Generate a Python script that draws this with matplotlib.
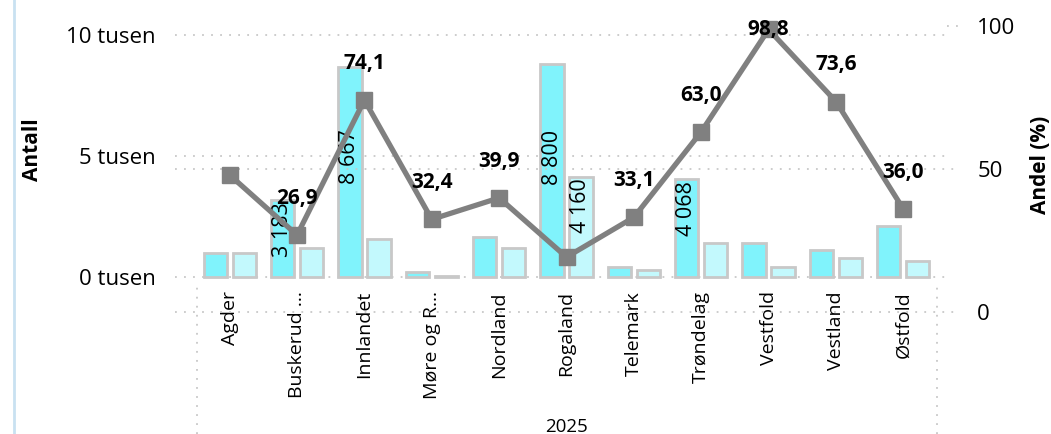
import matplotlib
matplotlib.use("Agg")
import matplotlib.pyplot as plt
import matplotlib.transforms as mtransforms
from matplotlib.lines import Line2D

plt.rcParams['font.family'] = ['Open Sans', 'DejaVu Sans']

# data
regions = ["Agder", "Buskerud ...", "Innlandet", "Møre og R...", "Nordland", "Rogaland",
           "Telemark", "Trøndelag", "Vestfold", "Vestland", "Østfold"]
antall_a = [1020, 3183, 8667, 210, 1680, 8800, 440, 4068, 1430, 1130, 2120]
antall_b = [1020, 1230, 1580, 50, 1230, 4160, 300, 1430, 440, 810, 680]
andel = [47.9, 26.9, 74.1, 32.4, 39.9, 19.2, 33.1, 63.0, 98.8, 73.6, 36.0]
andel_shown = [False, True, True, True, True, False, True, True, True, True, True]
bar_a_labels = ["", "3 183", "8 667", "", "", "8 800", "", "4 068", "", "", ""]
bar_b_labels = ["", "", "", "", "", "4 160", "", "", "", "", ""]
year = "2025"

W, H = 1051, 434
fig = plt.figure(figsize=(W / 100, H / 100), dpi=100)
fig.patch.set_facecolor("white")

ax = fig.add_axes([196 / W, (H - 320) / H, (937 - 196) / W, 300 / H])
ax2 = ax.twinx()
ax.set_xlim(-0.5, len(regions) - 0.5)
ax.set_ylim(-1752.6, 10618)
ax2.set_ylim(-2.80, 102.1)

dark = "#80F3FC"
light = "#C3F9FD"
edge = "#C8C8C8"
gray = "#808080"
grid_c = "#C8C8C8"

x = list(range(len(regions)))
xa = [i - 0.215 for i in x]
xb = [i + 0.215 for i in x]
ax.bar(xa, antall_a, width=0.345, color=dark, edgecolor=edge, linewidth=2, zorder=2)
ax.bar(xb, antall_b, width=0.345, color=light, edgecolor=edge, linewidth=2, zorder=2)

for xs, vals, labs in [(xa, antall_a, bar_a_labels), (xb, antall_b, bar_b_labels)]:
    for xi, v, lab in zip(xs, vals, labs):
        if lab:
            ax.text(xi, min(v - 80, 6100), lab, rotation=90, ha="center", va="top",
                    fontsize=15.5, color="black", zorder=3)

# gridlines (dotted, spilling past plot area like the original)
tl = mtransforms.blended_transform_factory(ax.transAxes, ax.transData)
tr = mtransforms.blended_transform_factory(ax2.transAxes, ax2.transData)
for v in [0, 5000, 10000]:
    ax.plot([-0.028, 1.011], [v, v], transform=tl, color=grid_c, lw=1.3,
            ls=(0, (1, 4)), clip_on=False, zorder=1)
for v in [0, 50]:
    ax2.plot([-0.028, 1.028], [v, v], transform=tr, color=grid_c, lw=1.3,
             ls=(0, (1, 4)), clip_on=False, zorder=1)
ax2.plot([1.014, 1.028], [100, 100], transform=tr, color=grid_c, lw=1.3,
         ls=(0, (1, 4)), clip_on=False, zorder=1)

ax2.plot(x, andel, color=gray, lw=3.8, marker="s", markersize=12, zorder=4)
for xi, v, show in zip(x, andel, andel_shown):
    if not show:
        continue
    off = 26.5 if v < 88 else 0
    ax2.annotate(f"{v:.1f}".replace(".", ","), (xi, v), xytext=(0, off),
                 textcoords="offset points", ha="center", va="center",
                 fontsize=15, fontweight="bold", color="black", zorder=5)

# axes styling
for a in (ax, ax2):
    for s in a.spines.values():
        s.set_visible(False)
    a.tick_params(length=0)
ax.set_xticks([])
ax.set_yticks([0, 5000, 10000])
ax.set_yticklabels(["0 tusen", "5 tusen", "10 tusen"], fontsize=16)
ax.tick_params(axis="y", pad=29)
ax2.set_yticks([0, 50, 100])
ax2.set_yticklabels(["0", "50", "100"], fontsize=16)
ax2.tick_params(axis="y", pad=29)
ax.set_zorder(ax2.get_zorder() - 1)
ax.patch.set_visible(False)
ax2.patch.set_visible(False)

# category labels
tx = mtransforms.blended_transform_factory(ax.transData, fig.transFigure)
for xi, name in zip(x, regions):
    ax.text(xi, (H - 291) / H, name, transform=tx, rotation=90, ha="center", va="top",
            fontsize=14, color="black")

fig.text(567 / W, (H - 427) / H, year, ha="center", va="center", fontsize=13.5)
fig.text(33 / W, (H - 150) / H, "Antall", rotation=90, ha="center", va="center",
         fontsize=15, fontweight="bold")
fig.text(1040 / W, (H - 165) / H, "Andel (%)", rotation=90, ha="center", va="center",
         fontsize=15, fontweight="bold")

# hierarchy borders and page border
for px in [197, 937]:
    fig.add_artist(Line2D([px / W, px / W], [0, (H - 285) / H], transform=fig.transFigure,
                          color=grid_c, lw=1.3, ls=(0, (1, 4))))
fig.add_artist(Line2D([14 / W, 14 / W], [0, 1], transform=fig.transFigure,
                      color="#C9E1F1", lw=2))

fig.savefig("out.png", dpi=100)
